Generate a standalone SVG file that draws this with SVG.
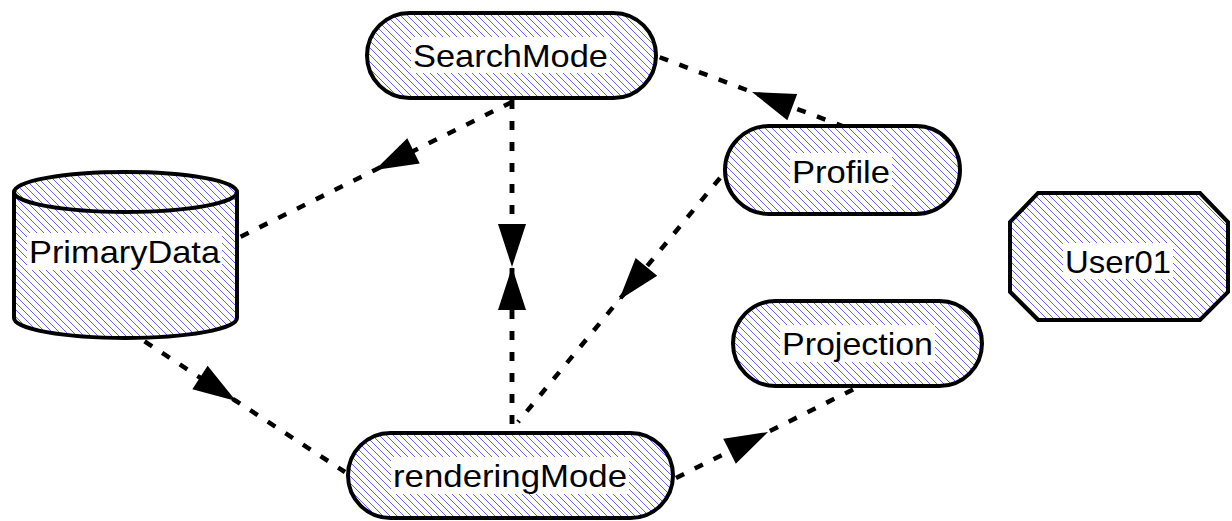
<svg xmlns="http://www.w3.org/2000/svg" width="1232" height="521" viewBox="0 0 1232 521">
  <defs>
    <!-- diagonal blue hatch used as node fill -->
    <pattern id="hatch" patternUnits="userSpaceOnUse" width="7" height="7">
      <rect width="7" height="7" fill="#ffffff"/>
      <path d="M-1,-1 L8,8 M-1,6 L1,8 M6,-1 L8,1" stroke="#3c3cff" stroke-width="0.8"/>
    </pattern>
    <marker id="arrow" markerUnits="userSpaceOnUse" viewBox="-45 -15 46 30" markerWidth="46" markerHeight="30" refX="0" refY="0" orient="auto">
      <path d="M0,0 L-43,-14 L-43,14 Z" fill="#000000"/>
    </marker>
  </defs>
  <style>
    .node { fill: url(#hatch); stroke: #000000; stroke-width: 4; }
    .lblbg { fill: #ffffff; }
    .lbl { font-family: "Liberation Sans", Arial, sans-serif; font-size: 32px; fill: #000000; text-anchor: middle; }
    .edge { fill: none; stroke: #000000; stroke-width: 4.5; stroke-dasharray: 9 12; marker-mid: url(#arrow); }
  </style>
  <rect width="1232" height="521" fill="#ffffff"/>

  <g id="connectors">
    <path class="edge" d="M512,102 L375,170 L238,238"/>
    <path class="edge" d="M512,100 L512,267 L512,434"/>
    <!-- reverse edge shares the same dash phase as the forward one -->
    <path class="edge" d="M512,434 L512,267 L512,100" stroke-dashoffset="11"/>
    <path class="edge" d="M845,127 L752,92 L659,57"/>
    <path class="edge" d="M720,178 L619,300 L518,422"/>
    <path class="edge" d="M127,330 L236,401 L345,472"/>
    <path class="edge" d="M676,478 L768,432 L860,386"/>
  </g>

  <g id="SearchMode">
    <rect class="node" x="367" y="13" width="289" height="85" rx="42.5" ry="42.5"/>
    <rect class="lblbg" x="411" y="37" width="199" height="36"/>
    <text class="lbl" x="510.5" y="67" textLength="195" lengthAdjust="spacingAndGlyphs">SearchMode</text>
  </g>

  <g id="PrimaryData">
    <path class="node" d="M14,192 A111.5,20 0 0 1 237,192 L237,318 A111.5,20 0 0 1 14,318 Z"/>
    <path d="M14,192 A111.5,20 0 0 0 237,192" fill="none" stroke="#000000" stroke-width="4"/>
    <rect class="lblbg" x="27" y="233" width="195" height="37"/>
    <text class="lbl" x="124.5" y="263" textLength="191" lengthAdjust="spacingAndGlyphs">PrimaryData</text>
  </g>

  <g id="Profile">
    <rect class="node" x="725" y="126" width="235" height="88" rx="44" ry="44"/>
    <rect class="lblbg" x="790" y="153" width="102" height="37"/>
    <text class="lbl" x="841" y="183" textLength="98" lengthAdjust="spacingAndGlyphs">Profile</text>
  </g>

  <g id="User01">
    <polygon class="node" points="1038,193 1200,193 1228,222 1228,292 1200,320 1038,320 1010,292 1010,222"/>
    <rect class="lblbg" x="1063" y="243" width="110" height="36"/>
    <text class="lbl" x="1118" y="273" textLength="106" lengthAdjust="spacingAndGlyphs">User01</text>
  </g>

  <g id="Projection">
    <rect class="node" x="733" y="301" width="249" height="85" rx="42.5" ry="42.5"/>
    <rect class="lblbg" x="780" y="325" width="155" height="37"/>
    <text class="lbl" x="857.5" y="355" textLength="151" lengthAdjust="spacingAndGlyphs">Projection</text>
  </g>

  <g id="renderingMode">
    <rect class="node" x="348" y="433" width="325" height="85" rx="42.5" ry="42.5"/>
    <rect class="lblbg" x="391" y="457" width="238" height="37"/>
    <text class="lbl" x="510" y="487" textLength="234" lengthAdjust="spacingAndGlyphs">renderingMode</text>
  </g>
</svg>
